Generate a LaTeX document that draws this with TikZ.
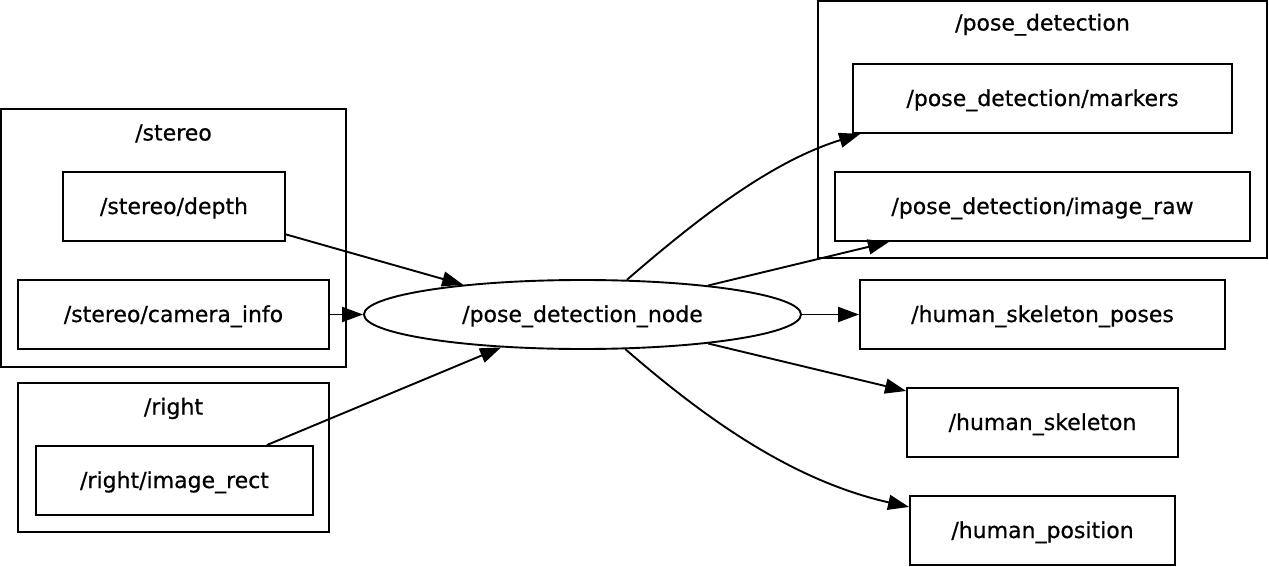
\documentclass[tikz,border=0pt]{standalone}
\usepackage{fontspec}
\setmainfont{DejaVu Sans}[FakeBold=0.6]
\usetikzlibrary{arrows.meta}
\usetikzlibrary{shapes.geometric}

\tikzset{
  topic/.style={draw, rectangle, line width=1.9pt, minimum height=69pt, inner sep=0pt, text height=18pt, text depth=3pt},
  rosnode/.style={draw, ellipse, line width=1.9pt, inner sep=0pt, text height=18pt, text depth=3pt},
  cluster/.style={draw, rectangle, line width=1.9pt, inner sep=0pt},
  clabel/.style={inner sep=0pt, text height=18pt, text depth=3pt},
  edge/.style={line width=1.9pt, -{Triangle[length=21pt,width=15pt]}}
}

\begin{document}
\begin{tikzpicture}[x=1pt, y=-1pt, font=\fontsize{22}{26}\selectfont]
        % topic graph around the pose detection node
        \useasboundingbox (0,0) rectangle (1269,567);

        \node[cluster, minimum width=345pt, minimum height=258pt] (stereo) at (173.5,238) {};
        \node[clabel] (stereolbl) at (173.5,133) {/stereo};
        \node[topic, minimum width=222pt] (depth) at (174,206.5) {/stereo/depth};
        \node[topic, minimum width=311pt] (caminfo) at (173.5,314.5) {/stereo/camera\_info};

        \node[cluster, minimum width=311pt, minimum height=149pt] (right) at (173.5,457.5) {};
        \node[clabel] (rightlbl) at (173.5,407) {/right};
        \node[topic, minimum width=277pt] (imgrect) at (174.5,480.5) {/right/image\_rect};

        \node[rosnode, minimum width=437pt, minimum height=69pt] (posenode) at (582.5,314.5) {/pose\_detection\_node};

        \node[cluster, minimum width=449pt, minimum height=257pt] (posedet) at (1042.5,129.5) {};
        \node[clabel] (posedetlbl) at (1042.5,23) {/pose\_detection};
        \node[topic, minimum width=379pt] (markers) at (1042.5,98.5) {/pose\_detection/markers};
        \node[topic, minimum width=415pt] (imgraw) at (1042.5,206.5) {/pose\_detection/image\_raw};

        \node[topic, minimum width=365pt] (poses) at (1042.5,314.5) {/human\_skeleton\_poses};
        \node[topic, minimum width=271pt] (skeleton) at (1042.5,422.5) {/human\_skeleton};
        \node[topic, minimum width=265pt] (position) at (1042.5,530.5) {/human\_position};

        \draw[edge] (depth.-14) -- (posenode.166);
        \draw[edge] (caminfo.east) -- (posenode.west);
        \draw[edge] (imgrect.21.6) -- (posenode.202);
        \draw[edge] (posenode.38) .. controls +(75,-65) and +(-87,27) .. (markers.191);
        \draw[edge] (posenode.13) -- (imgraw.193);
        \draw[edge] (posenode.east) -- (poses.west);
        \draw[edge] (posenode.-13) -- (skeleton.167);
        \draw[edge] (posenode.-39) .. controls +(75,65) and +(-120,-27) .. (position.170);
    \end{tikzpicture}
\end{document}
